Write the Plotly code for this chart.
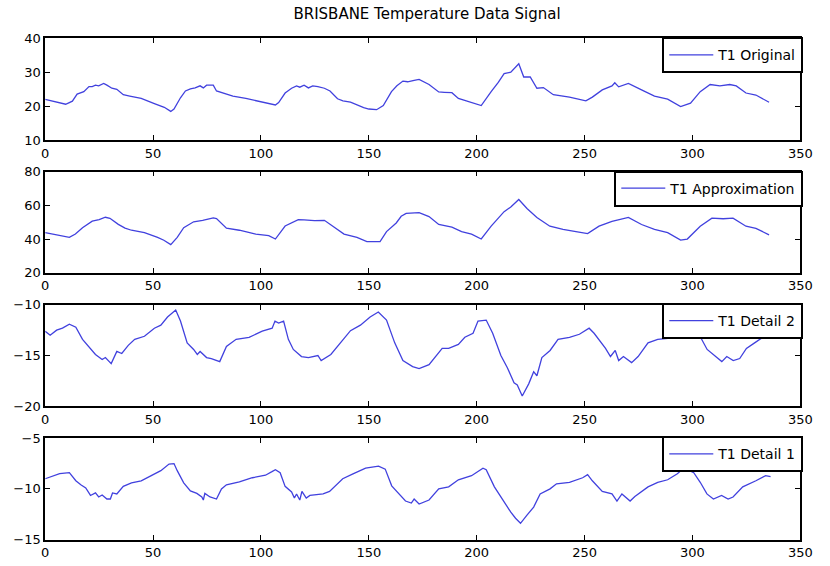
import plotly.graph_objects as go

# ---------------- data ----------------
title_text = "BRISBANE Temperature Data Signal"
series_names = ["T1 Original", "T1 Approximation", "T1 Detail 2", "T1 Detail 1"]
x_ticks = [0, 50, 100, 150, 200, 250, 300, 350]

original_pts = [
    (0, 22), (5, 21.3), (9.5, 20.6), (12.6, 21.5), (14.8, 23.6), (17.9, 24.3), (20.3, 25.8),
    (21.8, 25.8), (23.3, 26.2), (24.8, 26.0), (27.1, 26.7), (28.6, 26.2), (30.9, 25.3),
    (33.2, 25.0), (36.2, 23.4), (39.2, 23.0), (44.5, 22.3), (50.6, 20.8), (55.2, 19.7),
    (58.2, 18.5), (59.7, 19.2), (62.7, 22.5), (65, 24.5), (67.3, 25.1), (69.5, 25.4),
    (71.8, 26.0), (73.3, 25.4), (74.8, 26.2), (77.9, 26.2), (79.4, 24.5), (82.4, 23.9),
    (87, 23.0), (93, 22.3), (99.1, 21.5), (105.2, 20.8), (106.7, 20.4), (108.2, 21.1),
    (111.2, 23.9), (114.2, 25.3), (116.5, 26.0), (118, 25.6), (120, 26.2), (122, 25.4),
    (124, 26.0), (126.4, 25.8), (129.4, 25.3), (132, 24.5), (135.5, 22.2), (138, 21.6),
    (141.5, 21.2), (147.6, 19.6), (150, 19.2), (153.6, 19), (156.7, 20.2), (160.5, 24.3),
    (163, 26), (165.8, 27.4), (168, 27.2), (171, 27.6), (173.3, 27.9), (177.9, 26.4),
    (182.4, 24.2), (185, 24.1), (188.5, 24), (191.5, 22.3), (197.6, 21.2), (202.1, 20.2),
    (206.7, 24.3), (210, 27), (212.7, 29.6), (215.8, 30), (219.5, 32.5), (221.8, 28.6),
    (224.8, 28.6), (227.9, 25.3), (230.9, 25.5), (235.5, 23.4), (243, 22.7), (250.6, 21.6),
    (253.6, 22.7), (258.2, 24.8), (262.7, 26), (264, 26.9), (265.8, 25.7), (270.3, 26.7),
    (276.4, 24.8), (282.4, 23), (288.5, 22.1), (294.5, 19.9), (299.1, 20.9), (303.6, 24.3),
    (308.2, 26.4), (312.7, 26), (317.3, 26.4), (320.3, 26), (324.8, 23.9), (329.4, 23.3),
    (335.5, 21.2),
]

approximation_pts = [
    (0, 43.8), (5, 42.5), (11.2, 41), (14, 43), (17.3, 46.7), (21.8, 50.6), (25, 51.5),
    (27.9, 52.9), (30, 52.3), (33.9, 48.7), (37, 46.5), (40, 45.2), (46, 43.8), (52.1, 41),
    (55, 39.3), (58.2, 36.7), (61.2, 41), (64.2, 46.7), (68.8, 50.2), (73, 51), (77.9, 52.5),
    (79.4, 52.1), (84, 46.4), (90, 45.2), (97.6, 42.9), (103.6, 42), (106.7, 40),
    (111.2, 47.7), (117.3, 51.5), (120, 51.3), (124.8, 50.9), (129.4, 51.1), (133.9, 47.1),
    (138.5, 42.9), (144.5, 41), (149.1, 38.5), (155.2, 38.5), (158.2, 44.4), (162.7, 49.5),
    (165, 53.5), (167.3, 55.2), (173.3, 55.6), (177.9, 53.3), (182.4, 48.6), (188.5, 47),
    (193, 44.4), (197.6, 42.9), (202.1, 40), (206.7, 47.6), (212.7, 56.2), (215.8, 59),
    (219.5, 63.4), (223.3, 58.1), (227.9, 52.8), (233.9, 47.6), (240, 45.7), (246, 44.4),
    (251.4, 43.2), (256.7, 47.6), (262.7, 50.5), (270.3, 52.8), (276.4, 48.6), (282.4, 45.7),
    (288.5, 43.8), (294.5, 39.4), (297.6, 40), (303.6, 47.6), (309, 52.4), (314.2, 52),
    (318.8, 52.4), (324.8, 47.6), (329.4, 46.3), (335.5, 42.5),
]

detail2_pts = [
    (0, -12.6), (2.3, -13.0), (5.3, -12.5), (8, -12.3), (11.2, -11.9), (14.2, -12.2),
    (17.3, -13.4), (20.3, -14.1), (23.3, -14.9), (26.4, -15.4), (27.9, -15.2), (30.6, -15.8),
    (33.2, -14.6), (35.5, -14.8), (38.5, -14.0), (41.5, -13.4), (46, -13.1), (50.6, -12.3),
    (53.6, -12.0), (56.7, -11.2), (60.5, -10.5), (62.7, -11.6), (65.8, -13.75), (68.8, -14.4),
    (70.5, -14.9), (71.8, -14.6), (74.8, -15.2), (77, -15.3), (79.4, -15.45), (80.9, -15.6),
    (84, -14.1), (88.5, -13.4), (94.5, -13.2), (100.6, -12.6), (105.2, -12.3), (106.5, -11.6),
    (108.2, -11.8), (110.5, -11.6), (112.7, -13.4), (115, -14.4), (118.8, -15.1),
    (122, -15.2), (126.4, -15.0), (127.9, -15.5), (132.4, -14.9), (137, -13.75),
    (141.5, -12.55), (146.1, -12.0), (150.6, -11.2), (154.4, -10.7), (158.2, -11.5),
    (162, -13.75), (165.8, -15.5), (170.3, -16.1), (173.3, -16.3), (177.9, -15.9),
    (184, -14.3), (187, -14.3), (191.5, -13.9), (194.5, -13.2), (198.3, -12.8),
    (200.6, -11.6), (204.4, -11.5), (207.4, -12.8), (211.2, -15.0), (214.2, -16.2),
    (217.3, -17.7), (218.8, -17.9), (221.1, -19.0), (224.1, -17.8), (226.4, -16.6),
    (227.9, -17.0), (230.2, -15.2), (234, -14.5), (237.7, -13.4), (243, -13.2),
    (247.6, -12.9), (252.1, -12.3), (254.4, -12.8), (259.7, -14.3), (262, -15.1),
    (264.2, -14.5), (265.8, -15.5), (268, -15.1), (271.8, -15.7), (274.8, -15.1),
    (279.4, -13.75), (283.9, -13.4), (288.5, -13.3), (292, -12.3), (297, -11.2),
    (301, -11.8), (303, -12.9), (306.8, -14.4), (311.4, -15.2), (313.6, -15.6),
    (315.9, -15.1), (318.9, -15.5), (321.9, -15.3), (325, -14.3), (328.8, -13.75),
    (332.6, -13.2), (334.8, -12.5),
]

detail1_pts = [
    (0, -9.0), (3.6, -8.7), (6.7, -8.5), (11.2, -8.4), (14.2, -9.2), (16.5, -9.6),
    (18.8, -9.9), (21, -10.65), (23.3, -10.4), (24.8, -10.8), (26.4, -10.6), (28.6, -11.0),
    (30.2, -11.0), (31.2, -10.4), (33.2, -10.5), (36.2, -9.75), (40, -9.4), (44.5, -9.2),
    (49, -8.7), (53.6, -8.2), (57.4, -7.55), (59.7, -7.5), (61.2, -8.2), (64.2, -9.4),
    (67.3, -10.2), (70.3, -10.45), (72.6, -10.8), (73.3, -11.1), (74, -10.45), (76.4, -10.8),
    (79.4, -11.0), (81.7, -10.0), (84, -9.6), (90, -9.3), (96, -8.9), (102.1, -8.65),
    (105.1, -8.3), (106.7, -8.1), (108.9, -8.4), (111.2, -9.75), (114.2, -10.3),
    (115.5, -10.9), (116.5, -10.5), (118, -11.1), (119, -10.25), (121, -10.9), (122.7, -10.65),
    (128.8, -10.5), (131.8, -10.25), (137.9, -9.0), (142.4, -8.55), (148.5, -7.95),
    (154.5, -7.75), (157.6, -8.05), (160.6, -9.7), (163, -10.3), (165.2, -10.8),
    (167, -11.2), (169.7, -11.4), (171, -11.0), (173.3, -11.5), (177.9, -11.1),
    (182.4, -10.0), (187, -9.8), (191.5, -9.1), (197.6, -8.7), (202.9, -7.95), (204.4, -8.1),
    (208.2, -9.8), (212.7, -11.3), (215.8, -12.3), (218, -12.9), (220.3, -13.4),
    (223.3, -12.6), (226.4, -11.8), (229.4, -10.5), (234, -10.0), (237, -9.5), (243, -9.35),
    (249.1, -8.9), (251.4, -8.6), (253.6, -9.2), (258.2, -10.25), (262.7, -10.5),
    (265, -11.2), (267.3, -10.5), (271.1, -11.2), (273.3, -10.75), (279.4, -9.8),
    (283.9, -9.35), (288.5, -9.1), (293, -8.5), (296, -7.95), (300.6, -8.4), (303.6, -9.35),
    (306.7, -10.5), (309.7, -11.0), (313.5, -10.65), (316.5, -11.0), (318.8, -10.8),
    (323.3, -9.8), (329.4, -9.2), (333.9, -8.7), (336.2, -8.8),
]

y_ranges = [[10, 40], [20, 80], [-20, -10], [-15, -5]]
y_dticks = [10, 20, 5, 5]

# ---------------- layout geometry ----------------
W, H = 830, 566
panel_px = [(32, 137), (169, 273), (306, 410), (443, 547)]   # top, bottom in px
legend_top_px = [31, 168, 304, 441]
legend_right_px = 815
x_left_px, x_right_px = 42, 812
line_color = "rgb(65,65,222)"
font_family = "DejaVu Sans, Arial, sans-serif"

all_pts = [original_pts, approximation_pts, detail2_pts, detail1_pts]

fig = go.Figure()
layout = dict(
    width=W, height=H,
    margin=dict(l=0, r=0, t=0, b=0),
    paper_bgcolor="white", plot_bgcolor="white",
    showlegend=True,
    font=dict(family=font_family, size=13, color="black"),
)

for i, (pts, name) in enumerate(zip(all_pts, series_names)):
    k = "" if i == 0 else str(i + 1)
    xs = [p[0] for p in pts]
    ys = [p[1] for p in pts]
    legend_key = "legend" if i == 0 else f"legend{i + 1}"
    fig.add_trace(go.Scatter(
        x=xs, y=ys, mode="lines", name=name,
        line=dict(color=line_color, width=1.3),
        xaxis="x" + k, yaxis="y" + k, legend=legend_key,
    ))
    top, bot = panel_px[i]
    axis_common = dict(
        showline=True, linecolor="black", linewidth=1.8, mirror="ticks",
        ticks="inside", ticklen=5, tickwidth=1.2, tickcolor="black",
        showgrid=False, zeroline=False,
        tickfont=dict(family=font_family, size=13, color="black"),
    )
    layout["xaxis" + k] = dict(
        domain=[x_left_px / W, x_right_px / W],
        range=[0, 350], tickvals=x_ticks, anchor="y" + k,
        **axis_common,
    )
    layout["yaxis" + k] = dict(
        domain=[1 - bot / H, 1 - top / H],
        range=y_ranges[i], dtick=y_dticks[i], tick0=0, anchor="x" + k,
        **axis_common,
    )
    layout[legend_key] = dict(
        x=legend_right_px / W, xanchor="right",
        y=1 - legend_top_px[i] / H, yanchor="top",
        bgcolor="white", bordercolor="black", borderwidth=2,
        font=dict(family=font_family, size=14, color="black"),
        itemwidth=44,
    )

layout["title"] = dict(
    text=title_text, x=427 / W, xanchor="center", y=1 - 14 / H, yanchor="middle",
    font=dict(family=font_family, size=15, color="black"),
)

fig.update_layout(**layout)
fig.write_html("out.html")
